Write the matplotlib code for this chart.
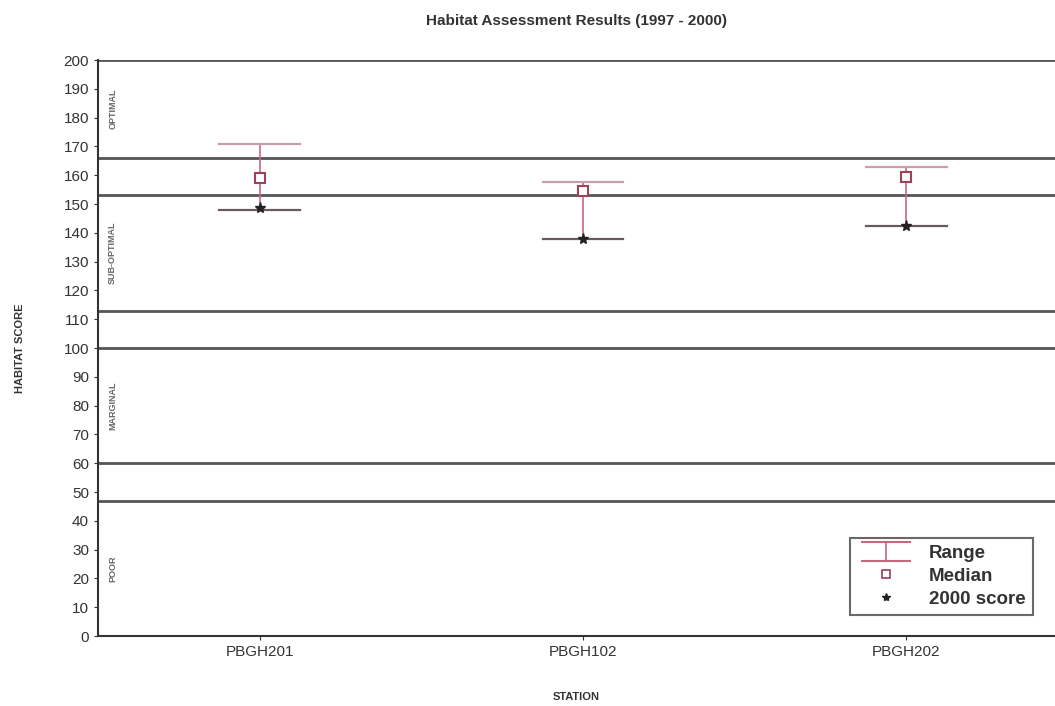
import matplotlib.pyplot as plt
from matplotlib.lines import Line2D

plt.rcParams['font.family'] = ['Liberation Sans', 'DejaVu Sans']

stations = ['PBGH201', 'PBGH102', 'PBGH202']
range_low = [148, 138, 142.5]
range_high = [171, 157.5, 163]
medians = [159, 154.5, 159.5]
score_2000 = [148.5, 138, 142.5]

# condition category boundaries and labels
band_lines = [166, 153, 113, 100, 60, 47]
band_names = ['OPTIMAL', 'SUB-OPTIMAL', 'MARGINAL', 'POOR']
band_mid = [183, 133, 80, 23.5]

range_col = '#c46a7c'

fig = plt.figure(figsize=(10.55, 7.06), dpi=100)
ax = fig.add_axes([0.093, 0.099, 0.907, 0.816])

x = list(range(1, len(stations) + 1))

for y in band_lines:
    ax.axhline(y, color='#555555', lw=2.0, zorder=1)
ax.axhline(200, color='#555555', lw=2.0, zorder=1)

for name, y in zip(band_names, band_mid):
    ax.text(0.545, y, name, rotation=90, ha='center', va='center',
            fontsize=6.5, fontweight='bold', color='#666666')

# range bars: vertical line plus caps drawn separately
for xi, lo, hi in zip(x, range_low, range_high):
    ax.plot([xi, xi], [lo, hi], color=range_col, lw=1.2, zorder=3)
    ax.plot([xi - 0.125, xi + 0.125], [lo, lo], color='#6a5a5e', lw=1.6, zorder=3)
    ax.plot([xi - 0.125, xi + 0.125], [hi, hi], color='#c9a0aa', lw=1.6, zorder=3)

ax.plot(x, medians, ls='none', marker='s', ms=7, mfc='white', mec='#a0405a',
        mew=1.5, zorder=4)
ax.plot(x, score_2000, ls='none', marker='*', ms=8, color='#222222', zorder=5)

ax.set_xlim(0.5, 3.46)
ax.set_ylim(0, 200)
ax.set_yticks(range(0, 201, 10))
ax.set_xticks(x)
ax.set_xticklabels(stations)
ax.tick_params(axis='both', labelsize=11, colors='#333333', length=3)
for s in ['top', 'right']:
    ax.spines[s].set_visible(False)
ax.spines['left'].set_color('#333333')
ax.spines['bottom'].set_color('#333333')
ax.spines['left'].set_linewidth(1.5)
ax.spines['bottom'].set_linewidth(1.5)

ax.set_title('Habitat Assessment Results (1997 - 2000)', fontsize=11,
             fontweight='bold', color='#333333', pad=25)
ax.set_ylabel('HABITAT SCORE', fontsize=8, fontweight='bold', color='#333333',
              labelpad=28)
ax.set_xlabel('STATION', fontsize=8, fontweight='bold', color='#333333',
              labelpad=24)

# off-axis errorbar used only as the legend handle for the range
range_handle = ax.errorbar([-10], [100], yerr=[10], fmt='none', ecolor=range_col,
                           elinewidth=1.2, capsize=18, capthick=1.5)
handles = [
    range_handle,
    Line2D([], [], ls='none', marker='s', ms=6, mfc='white', mec='#a0405a', mew=1.2),
    Line2D([], [], ls='none', marker='*', ms=6, color='#222222'),
]
leg = ax.legend(handles, ['Range', 'Median', '2000 score'], loc='lower right',
                bbox_to_anchor=(0.987, 0.02), fontsize=13.5, frameon=True,
                fancybox=False, edgecolor='#444444', handlelength=3.0,
                labelspacing=0.3, borderpad=0.4, handletextpad=0.8)
leg.get_frame().set_linewidth(1.5)
for t in leg.get_texts():
    t.set_fontweight('bold')
    t.set_color('#333333')

fig.savefig('out.png', dpi=100)
